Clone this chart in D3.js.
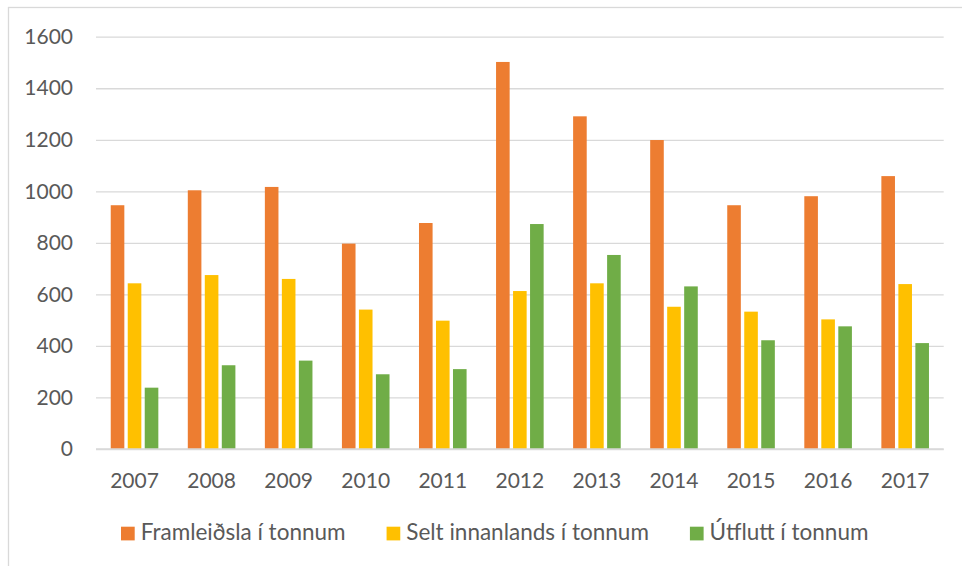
<!DOCTYPE html>
<html>
<head>
<meta charset="utf-8">
<script src="https://cdn.jsdelivr.net/npm/d3@7"></script>
<style>
  body { margin: 0; background: #fff; }
  svg { display: block; font-family: Lato, "Open Sans", sans-serif; }
</style>
</head>
<body>
<script>
// data
var years = ["2007", "2008", "2009", "2010", "2011", "2012", "2013", "2014", "2015", "2016", "2017"];
var seriesNames = ["Framleiðsla í tonnum", "Selt innanlands í tonnum", "Útflutt í tonnum"];
var framleidsla = [946, 1004, 1017, 797, 877, 1502, 1291, 1199, 946, 981, 1059];
var seltInnanlands = [643, 675, 660, 541, 498, 613, 643, 552, 533, 503, 640];
var utflutt = [238, 325, 343, 290, 310, 873, 753, 631, 422, 476, 411];
var yTicks = [0, 200, 400, 600, 800, 1000, 1200, 1400, 1600];
var colors = ["#ED7D31", "#FFC000", "#70AD47"];

var seriesValues = [framleidsla, seltInnanlands, utflutt];

var width = 962, height = 566;
var plotLeft = 96, plotRight = 943.7, plotTop = 36.7, plotBottom = 449;

var svg = d3.select("body").append("svg")
    .attr("width", width)
    .attr("height", height);

// outer chart frame
svg.append("rect")
    .attr("x", 8.5).attr("y", 7.5)
    .attr("width", 980).attr("height", 600)
    .attr("fill", "none")
    .attr("stroke", "#d9d9d9")
    .attr("stroke-width", 1.3);

var y = d3.scaleLinear().domain([0, 1600]).range([plotBottom, plotTop]);

var x0 = d3.scaleBand().domain(years).range([plotLeft, plotRight]).padding(0);
var groupW = 47.6;
var off = (x0.bandwidth() - groupW) / 2;
var x1 = d3.scaleBand().domain(d3.range(3)).range([off, off + groupW]).paddingInner(0.2);

// gridlines + y labels
var yAxis = svg.append("g")
    .attr("transform", "translate(" + plotLeft + ",0)")
    .call(d3.axisLeft(y).tickValues(yTicks).tickFormat(d3.format("d"))
        .tickSize(-(plotRight - plotLeft)).tickPadding(23));
yAxis.select(".domain").remove();
yAxis.selectAll("line").attr("stroke", "#d9d9d9").attr("stroke-width", 1.3);
yAxis.selectAll("text")
    .attr("fill", "#595959")
    .style("font-size", "21px")
    .style("font-family", "Lato, sans-serif");

// bars
var groups = svg.selectAll("g.year")
    .data(years).enter().append("g")
    .attr("class", "year")
    .attr("transform", function (d) { return "translate(" + x0(d) + ",0)"; });

groups.selectAll("rect")
    .data(function (d, i) {
        return seriesValues.map(function (s, k) { return { k: k, v: s[i] }; });
    })
    .enter().append("rect")
    .attr("x", function (d) { return x1(d.k); })
    .attr("y", function (d) { return y(d.v); })
    .attr("width", x1.bandwidth())
    .attr("height", function (d) { return y(0) - y(d.v); })
    .attr("fill", function (d) { return colors[d.k]; });

// x axis line at 0 redrawn on top
svg.append("line")
    .attr("x1", plotLeft).attr("x2", plotRight)
    .attr("y1", y(0)).attr("y2", y(0))
    .attr("stroke", "#d9d9d9").attr("stroke-width", 1.3);

// year labels
svg.selectAll("text.year")
    .data(years).enter().append("text")
    .attr("class", "year")
    .attr("x", function (d) { return x0(d) + x0.bandwidth() / 2; })
    .attr("y", 488)
    .attr("text-anchor", "middle")
    .attr("fill", "#595959")
    .style("font-size", "21px")
    .text(function (d) { return d; });

// legend
var legend = svg.append("g");
var lx = 121;
seriesNames.forEach(function (name, k) {
    legend.append("rect")
        .attr("x", lx).attr("y", 526.7)
        .attr("width", 13.7).attr("height", 13.7)
        .attr("fill", colors[k]);
    var t = legend.append("text")
        .attr("x", lx + 19.7)
        .attr("y", 540)
        .attr("fill", "#595959")
        .style("font-size", "22.5px")
        .text(name);
    lx = lx + 19.7 + t.node().getComputedTextLength() + 41;
});
</script>
</body>
</html>
